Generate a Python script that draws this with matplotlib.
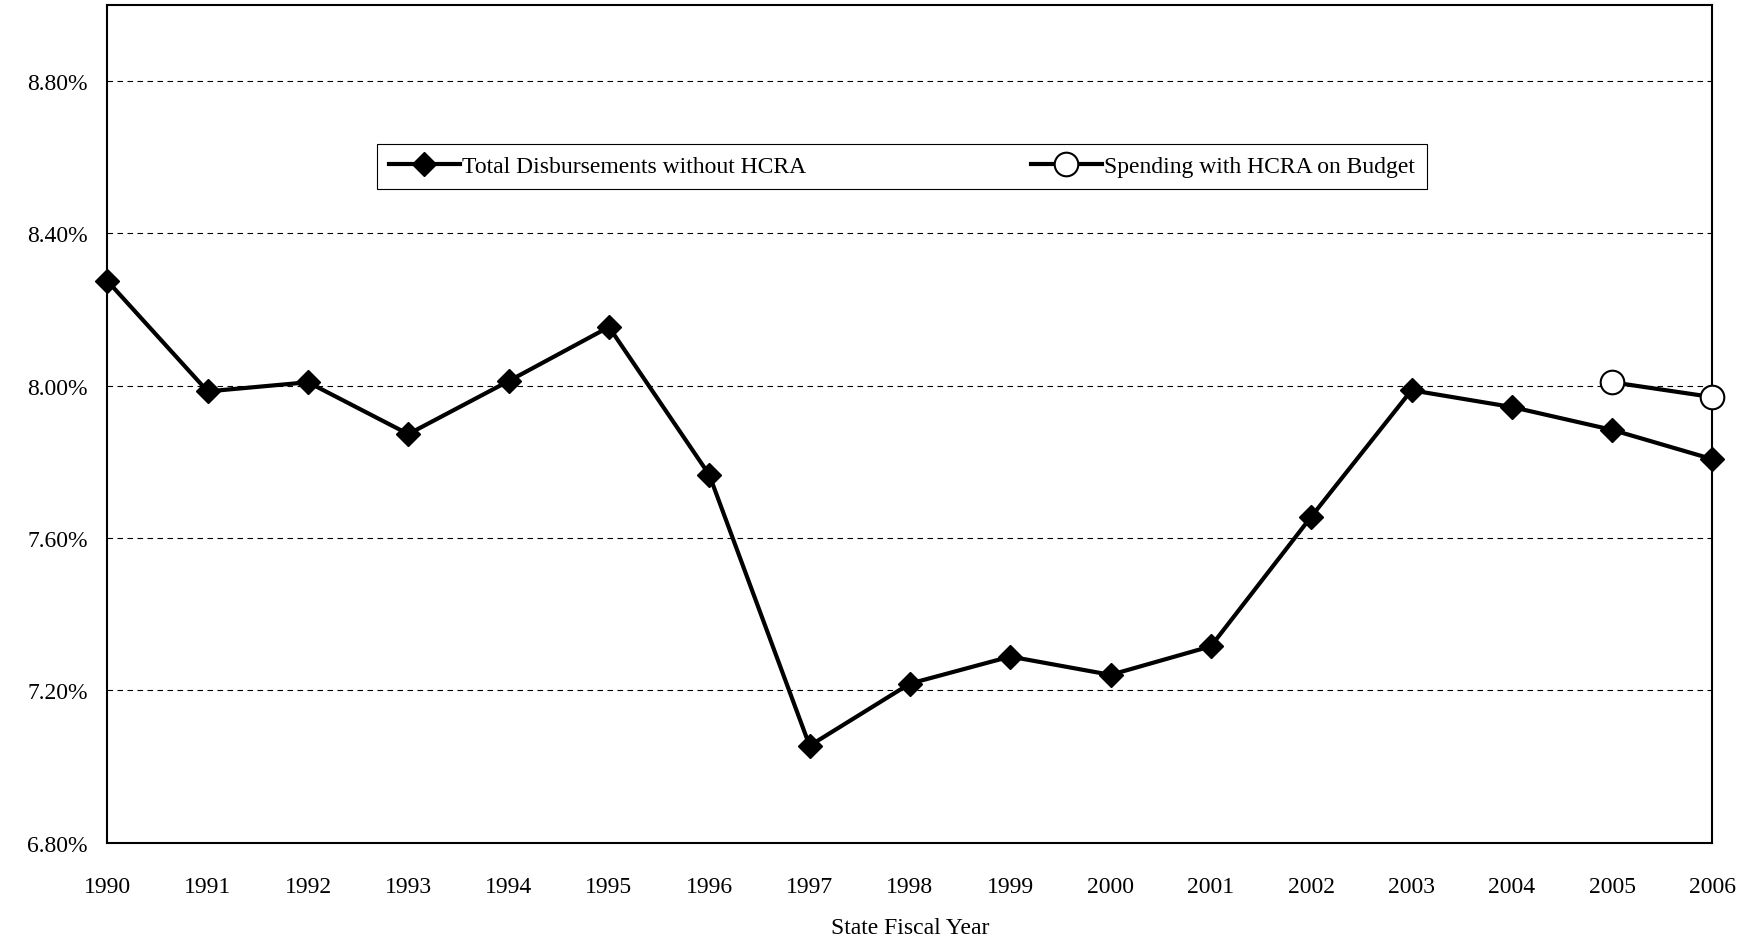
import matplotlib
matplotlib.use("Agg")
import matplotlib.pyplot as plt
from matplotlib.ticker import FuncFormatter

years = list(range(1990, 2007))
total = [8.275, 7.985, 8.009, 7.873, 8.012, 8.154, 7.766, 7.055, 7.218, 7.289,
         7.241, 7.316, 7.656, 7.988, 7.944, 7.884, 7.807]
hcra_years = [2005, 2006]
hcra = [8.009, 7.970]

plt.rcParams['font.family'] = ['Liberation Serif', 'DejaVu Serif']
fig = plt.figure(figsize=(17.6, 9.45), dpi=100)
ax = fig.add_axes([0.061, 0.107, 0.912, 0.887])
ax.plot(years, total, color='black', lw=3, marker='D', ms=12, label='Total Disbursements without HCRA',
        zorder=3, clip_on=False)
ax.plot(hcra_years, hcra, color='black', lw=3, marker='o', ms=17, mfc='white', mew=1.5,
        label='Spending with HCRA on Budget', zorder=3, clip_on=False)
ax.set_xlim(1990, 2006)
ax.set_ylim(6.8, 9.0)
ax.set_yticks([6.8, 7.2, 7.6, 8.0, 8.4, 8.8])
ax.yaxis.set_major_formatter(FuncFormatter(lambda v, p: f"{v:.2f}%"))
ax.set_xticks(years)
ax.grid(axis='y', ls='--', color='black', lw=0.8, dashes=(5, 4))
ax.tick_params(axis='y', labelsize=17, length=0, pad=14)
ax.tick_params(axis='x', labelsize=17, length=0, pad=24)
for s in ax.spines.values():
    s.set_linewidth(1.5)
ax.set_xlabel('State Fiscal Year', fontsize=17, labelpad=14)
leg = ax.legend(loc='upper center', bbox_to_anchor=(0.495, 0.834), ncol=2, fontsize=17,
                fancybox=False, edgecolor='black', framealpha=1, columnspacing=9.5,
                handlelength=3.0, handletextpad=0.1, borderpad=0.5, borderaxespad=0)
leg.get_frame().set_linewidth(0.8)
fig.savefig('out.png')
